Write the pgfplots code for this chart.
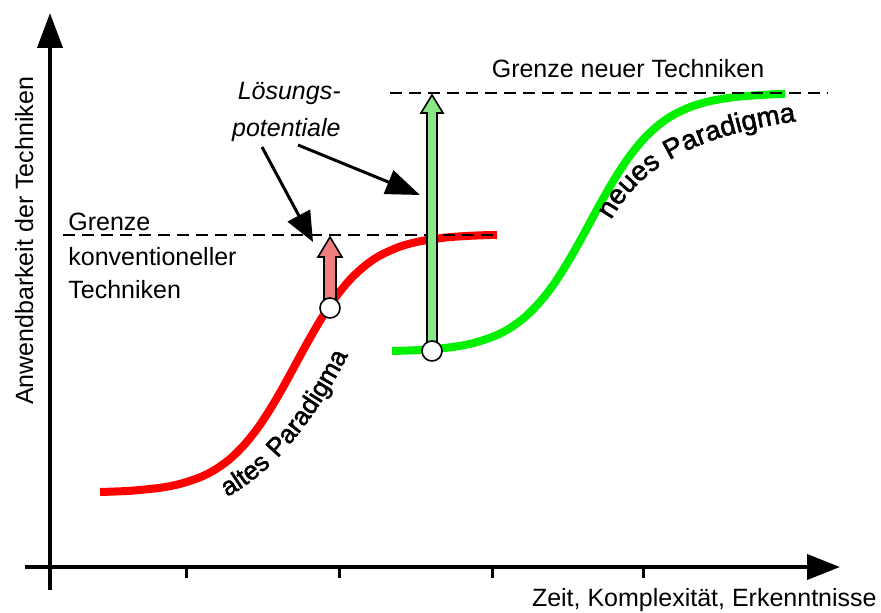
\documentclass[border=0pt]{standalone}
\usepackage{fontspec}
\setmainfont{Liberation Sans}
\newfontfamily\curvefamily[FakeBold=1.8, LetterSpace=6]{Liberation Sans}
\usepackage{pgfplots}
\pgfplotsset{compat=1.18}
\usetikzlibrary{arrows.meta,decorations.text}
\definecolor{curvered}{RGB}{255,0,0}
\definecolor{curvegreen}{RGB}{0,240,0}
\definecolor{arrowred}{RGB}{240,128,128}
\definecolor{arrowgreen}{RGB}{136,232,136}
\newcommand\lblfont{\fontsize{12.5pt}{15pt}\selectfont}
\newcommand\curvefont{\curvefamily\fontsize{13pt}{15pt}\selectfont}
\newcommand\curvefontb{\curvefamily\fontsize{13.8pt}{16pt}\selectfont}
\begin{document}
\lblfont
\begin{tikzpicture}[font=\lblfont]
\begin{axis}[name=ax, x=0.5pt, y=0.5pt, xmin=0, xmax=881, ymin=0, ymax=612,
  hide axis, clip=false, scale only axis]
% axes
\addplot[black, line width=2pt, -{Triangle[length=17.5pt,width=12.5pt]}] coordinates {(50,22) (50,599)};
\addplot[black, line width=2pt, -{Triangle[length=16.5pt,width=12.5pt]}] coordinates {(25,45) (840,45)};
\addplot[black, line width=1.5pt] coordinates {(186,45) (186,34)};
\addplot[black, line width=1.5pt] coordinates {(339,45) (339,34)};
\addplot[black, line width=1.5pt] coordinates {(492,45) (492,34)};
\addplot[black, line width=1.5pt] coordinates {(643,45) (643,34)};
% curves
\addplot[curvered, line width=4pt, smooth, line cap=butt] coordinates {
(100,120.0) (130,121.2) (160,124.2) (180,128.1) (200,134.7) (215,142.3) (230,153.1)
(245,168.0) (260,187.2) (275,210.8) (290,237.4) (305,265.1) (320,291.2) (335,314.0)
(350,332.4) (365,346.3) (380,356.5) (400,365.4) (420,370.7) (445,374.4) (470,376.2) (497,377.2)};
\addplot[curvegreen, line width=4pt, smooth, line cap=butt] coordinates {
(392,261.0) (424,262.2) (454,265.2) (474,269.1) (494,275.7) (509,283.3) (524,294.1)
(539,309.0) (554,328.2) (569,351.8) (584,378.4) (599,406.1) (614,432.2) (629,455.0)
(644,473.4) (659,487.3) (674,497.5) (694,506.4) (714,511.7) (739,515.4) (764,517.2) (785,518.2)};
% dashed limits
\addplot[black, line width=0.7pt, dash pattern=on 6pt off 3.5pt] coordinates {(63,377) (495,377)};
\addplot[black, line width=0.7pt, dash pattern=on 6pt off 3.5pt] coordinates {(390,519) (828,519)};
% block arrows
\addplot[fill=arrowred, draw=black, line width=0.8pt] coordinates {
(324,303) (324,355) (318,355) (330,375) (342,355) (336,355) (336,303)} -- cycle;
\addplot[fill=arrowgreen, draw=black, line width=0.8pt] coordinates {
(427,261) (427,499) (421,499) (432,517) (443,499) (437,499) (437,261)} -- cycle;
% circles
\addplot[only marks, mark=*, mark size=5pt, mark options={fill=white, draw=black, line width=0.8pt}] coordinates {(330,304) (432,261)};
% pointer arrows
\addplot[black, line width=1.5pt, -{Triangle[length=15pt,width=12.5pt]}] coordinates {(262,465) (313,370)};
\addplot[black, line width=1.5pt, -{Triangle[length=17pt,width=12.5pt]}] coordinates {(298,467) (420,417)};
% texts
\node[anchor=base west, inner sep=0pt] at (axis cs:68,382) {Grenze};
\node[anchor=base west, inner sep=0pt] at (axis cs:68,347) {konventioneller};
\node[anchor=base west, inner sep=0pt] at (axis cs:68,314) {Techniken};
\node[anchor=base east, inner sep=0pt] at (axis cs:341,512) {\itshape Lösungs-};
\node[anchor=base east, inner sep=0pt] at (axis cs:341,475) {\itshape potentiale};
\node[anchor=base, inner sep=0pt] at (axis cs:628,534) {Grenze neuer Techniken};
\node[anchor=base east, inner sep=0pt] at (axis cs:877,6) {Zeit, Komplexität, Erkenntnisse};
\node[anchor=base, rotate=90, inner sep=0pt] at (axis cs:33,371) {Anwendbarkeit der Techniken};
\path[decorate, decoration={text along path, text={|\curvefont|altes Paradigma}, text align=left}]
  (axis cs:227,115) .. controls (axis cs:265,135) and (axis cs:312,180) .. (axis cs:357,275);
\path[decorate, decoration={text along path, text={|\curvefontb|neues Paradigma}, text align=left}]
  (axis cs:611,392) .. controls (axis cs:636,435) and (axis cs:680,480) .. (axis cs:825,494);
\end{axis}
\pgfresetboundingbox
\path (ax.south west) rectangle (ax.north east);
\end{tikzpicture}
\end{document}
